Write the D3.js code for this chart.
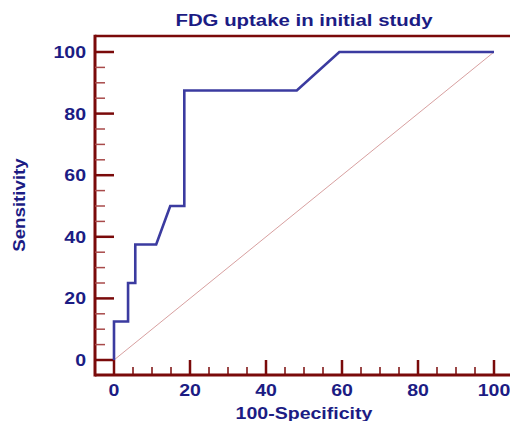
<!DOCTYPE html>
<html>
<head>
<meta charset="utf-8">
<script src="https://cdn.jsdelivr.net/npm/d3@7"></script>
<style>
  body { margin: 0; background: #fff; }
  svg { display: block; }
</style>
</head>
<body>
<div id="chart"></div>
<script>
// ROC curve points
var fpr = [0, 0, 3.7, 3.7, 5.6, 5.6, 11.1, 14.8, 18.5, 18.5, 48.1, 59.3, 100];
var tpr = [0, 12.5, 12.5, 25, 25, 37.5, 37.5, 50, 50, 87.5, 87.5, 100, 100];
var majorTicks = [0, 20, 40, 60, 80, 100];
var minorTicks = d3.range(0, 101, 5);

var width = 510, height = 421;
var axisColor = '#7a0a0a';
var textColor = '#1c1c84';
var font = 'Liberation Sans, Arial, sans-serif';

var svg = d3.select('#chart').append('svg')
  .attr('width', width)
  .attr('height', height);

var x = d3.scaleLinear().domain([0, 100]).range([114, 494]);
var y = d3.scaleLinear().domain([0, 100]).range([360, 52]);

var axisX = 95, axisY = 375, topY = 36;

// text drawn at (px,py), stretched a bit sideways like the original
function label(parent, str, px, py, anchor, sx, rot) {
  return parent.append('text')
    .text(str)
    .attr('transform', 'translate(' + px + ',' + py + ')' + (rot ? ' rotate(' + rot + ')' : '') + ' scale(' + sx + ',1)')
    .attr('text-anchor', anchor)
    .attr('font-family', font)
    .attr('font-weight', 'bold')
    .attr('font-size', 17)
    .attr('fill', textColor);
}

// frame: top border, left + bottom axis
svg.append('line')
  .attr('x1', axisX).attr('x2', width).attr('y1', topY).attr('y2', topY)
  .attr('stroke', axisColor).attr('stroke-width', 2.5);
svg.append('line')
  .attr('x1', axisX).attr('x2', axisX).attr('y1', topY - 1.25).attr('y2', axisY + 1.5)
  .attr('stroke', axisColor).attr('stroke-width', 3);
svg.append('line')
  .attr('x1', axisX).attr('x2', width).attr('y1', axisY).attr('y2', axisY)
  .attr('stroke', axisColor).attr('stroke-width', 3);

// y ticks
svg.append('g').selectAll('line')
  .data(minorTicks)
  .enter().append('line')
  .attr('x1', axisX)
  .attr('x2', function (d) { return d % 20 === 0 ? 114 : 105; })
  .attr('y1', function (d) { return y(d); })
  .attr('y2', function (d) { return y(d); })
  .attr('stroke', function (d) { return d % 20 === 0 ? axisColor : '#a84a4a'; })
  .attr('stroke-width', function (d) { return d % 20 === 0 ? 2.5 : 1.5; });

// x ticks
svg.append('g').selectAll('line')
  .data(minorTicks)
  .enter().append('line')
  .attr('x1', function (d) { return x(d); })
  .attr('x2', function (d) { return x(d); })
  .attr('y1', axisY)
  .attr('y2', function (d) { return d % 20 === 0 ? 360 : 367; })
  .attr('stroke', axisColor)
  .attr('stroke-width', function (d) { return d % 20 === 0 ? 2.5 : 1.5; });

// tick labels
var yLabels = svg.append('g');
majorTicks.forEach(function (d) {
  label(yLabels, d, 86, y(d) + 6, 'end', 1.15);
});
var xLabels = svg.append('g');
majorTicks.forEach(function (d) {
  label(xLabels, d, x(d), 396, 'middle', 1.15);
});

// reference diagonal
svg.append('line')
  .attr('x1', x(0)).attr('y1', y(0))
  .attr('x2', x(100)).attr('y2', y(100))
  .attr('stroke', '#d8a0a0')
  .attr('stroke-width', 1);

// ROC curve
var line = d3.line()
  .x(function (d) { return x(d[0]); })
  .y(function (d) { return y(d[1]); });

svg.append('path')
  .datum(d3.zip(fpr, tpr))
  .attr('d', line)
  .attr('fill', 'none')
  .attr('stroke', '#3b3ba0')
  .attr('stroke-width', 2.6)
  .attr('stroke-linejoin', 'miter');

// titles
label(svg, 'FDG uptake in initial study', 304, 26, 'middle', 1.2);
label(svg, '100-Specificity', 304, 419, 'middle', 1.15);
label(svg, 'Sensitivity', 25, 205, 'middle', 1.1, -90);
</script>
</body>
</html>
